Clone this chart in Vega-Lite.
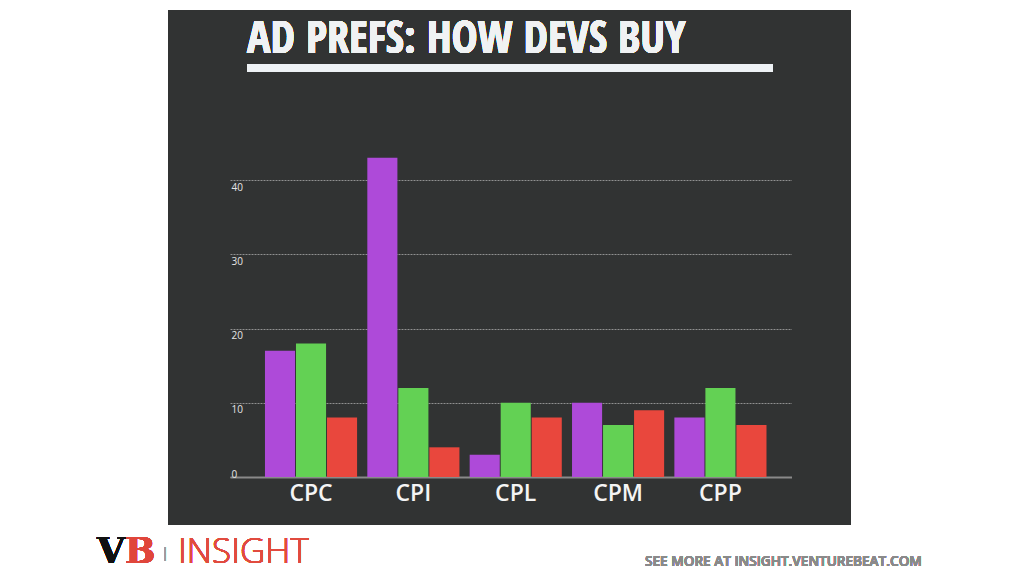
{
  "$schema": "https://vega.github.io/schema/vega-lite/v6.json",
  "width": 683,
  "height": 515,
  "autosize": {"type": "none"},
  "padding": {"left": 168, "top": 10, "right": 173, "bottom": 51},
  "background": "#ffffff",
  "config": {
    "view": {"fill": "#313333", "stroke": null},
    "font": "Open Sans"
  },
  "data": {
    "values": [
      {"type": "CPC", "series": "Series 1", "value": 17},
      {"type": "CPC", "series": "Series 2", "value": 18},
      {"type": "CPC", "series": "Series 3", "value": 8},
      {"type": "CPI", "series": "Series 1", "value": 43},
      {"type": "CPI", "series": "Series 2", "value": 12},
      {"type": "CPI", "series": "Series 3", "value": 4},
      {"type": "CPL", "series": "Series 1", "value": 3},
      {"type": "CPL", "series": "Series 2", "value": 10},
      {"type": "CPL", "series": "Series 3", "value": 8},
      {"type": "CPM", "series": "Series 1", "value": 10},
      {"type": "CPM", "series": "Series 2", "value": 7},
      {"type": "CPM", "series": "Series 3", "value": 9},
      {"type": "CPP", "series": "Series 1", "value": 8},
      {"type": "CPP", "series": "Series 2", "value": 12},
      {"type": "CPP", "series": "Series 3", "value": 7}
    ]
  },
  "resolve": {"scale": {"x": "independent"}, "axis": {"x": "independent"}},
  "layer": [
    {
      "mark": {"type": "bar"},
      "encoding": {
        "x": {
          "field": "type",
          "type": "nominal",
          "sort": null,
          "scale": {"range": [62, 623.5], "paddingInner": 0.1, "paddingOuter": 0.293, "align": 0.583},
          "axis": {
            "title": null,
            "orient": "bottom",
            "offset": -48,
            "ticks": false,
            "domain": true,
            "domainColor": "#8a8a8a",
            "domainWidth": 2,
            "labelColor": "#f4f4f4",
            "labelFont": "Open Sans",
            "labelFontSize": 23,
            "labelFontWeight": 600,
            "labelPadding": 5,
            "labelAngle": 0,
            "grid": false
          }
        },
        "xOffset": {
          "field": "series",
          "type": "nominal",
          "scale": {"paddingInner": 0.03}
        },
        "y": {
          "field": "value",
          "type": "quantitative",
          "scale": {"domain": [0, 45], "range": [467, 133], "nice": false, "zero": true},
          "axis": {
            "title": null,
            "orient": "left",
            "offset": -62,
            "values": [0, 10, 20, 30, 40],
            "ticks": false,
            "domain": false,
            "labelAlign": "left",
            "labelPadding": -1,
            "labelBaseline": {"condition": {"test": "datum.value === 0", "value": "bottom"}, "value": "top"},
            "labelOffset": 2,
            "labelColor": "#e6e6e6",
            "labelFont": "Open Sans",
            "labelFontSize": 10,
            "grid": true,
            "gridColor": "#a8a8a8",
            "gridDash": [2, 1],
            "gridOpacity": 0.8,
            "gridWidth": 1
          }
        },
        "color": {
          "field": "series",
          "type": "nominal",
          "scale": {"range": ["#ae4ad9", "#63d154", "#e9473d"]},
          "legend": null
        }
      }
    },
    {
      "layer": [
        {
          "mark": {"type": "rule", "color": "#eef2f5", "strokeWidth": 7},
          "encoding": {
            "x": {"datum": 0, "type": "quantitative", "scale": {"domain": [0, 1], "range": [79, 605]}, "axis": null},
            "x2": {"datum": 1},
            "y": {"datum": 55.1, "type": "quantitative"}
          }
        },
        {
          "mark": {"type": "text", "text": "AD PREFS: HOW DEVS BUY", "align": "left", "baseline": "alphabetic", "font": "'Open Sans Condensed', 'Open Sans Condensed Bold', 'Liberation Sans Narrow', 'Arial Narrow', 'DejaVu Sans Condensed', sans-serif", "fontWeight": "bold", "fontSize": 44, "color": "#f0f2f3"},
          "encoding": {
            "x": {"datum": 0, "type": "quantitative"},
            "y": {"datum": 57.13, "type": "quantitative"}
          }
        },
        {
          "mark": {"type": "text", "text": "V", "align": "left", "baseline": "alphabetic", "font": "DejaVu Serif", "fontWeight": "bold", "fontSize": 36, "color": "#111111"},
          "encoding": {
            "x": {"datum": -0.2852, "type": "quantitative"},
            "y": {"datum": -11.63, "type": "quantitative"}
          }
        },
        {
          "mark": {"type": "text", "text": "B", "align": "left", "baseline": "alphabetic", "font": "DejaVu Serif", "fontWeight": "bold", "fontSize": 36, "color": "#e0463b"},
          "encoding": {
            "x": {"datum": -0.2319, "type": "quantitative"},
            "y": {"datum": -11.63, "type": "quantitative"}
          }
        },
        {
          "mark": {"type": "text", "text": "|", "align": "center", "baseline": "alphabetic", "font": "Open Sans", "fontWeight": 300, "fontSize": 15, "color": "#9a9a9a"},
          "encoding": {
            "x": {"datum": -0.1559, "type": "quantitative"},
            "y": {"datum": -10.9, "type": "quantitative"}
          }
        },
        {
          "mark": {"type": "text", "text": "INSIGHT", "align": "left", "baseline": "alphabetic", "font": "Open Sans", "fontWeight": 300, "fontSize": 35, "color": "#e14b3f"},
          "encoding": {
            "x": {"datum": -0.1312, "type": "quantitative"},
            "y": {"datum": -11.63, "type": "quantitative"}
          }
        },
        {
          "mark": {"type": "text", "text": "SEE MORE AT INSIGHT.VENTUREBEAT.COM", "align": "left", "baseline": "alphabetic", "font": "Open Sans", "fontWeight": 600, "fontSize": 13.6, "color": "#8a8a8a"},
          "encoding": {
            "x": {"datum": 0.7567, "type": "quantitative"},
            "y": {"datum": -11.99, "type": "quantitative"}
          }
        }
      ]
    }
  ]
}
